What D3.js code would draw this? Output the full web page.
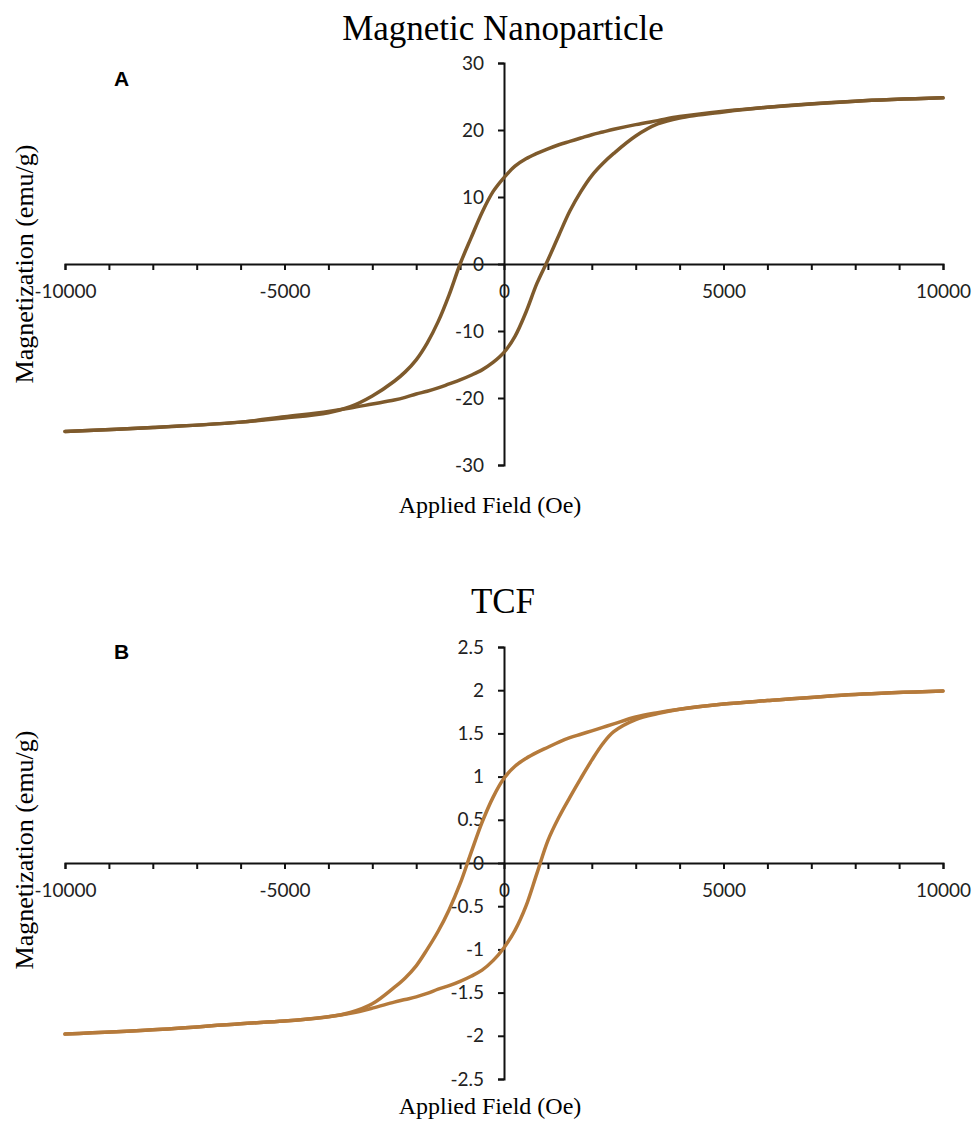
<!DOCTYPE html>
<html>
<head>
<meta charset="utf-8">
<script src="https://cdn.jsdelivr.net/npm/d3@7"></script>
<style>
  body { margin: 0; background: #fff; }
  .tick text { font-family: Lato, "Open Sans", sans-serif; font-size: 19px; fill: #222; }
  .domain, .tick line { stroke: #111; stroke-width: 2px; }
</style>
</head>
<body>
<div id="chart"></div>
<script>

// field values (Oe) shared by every branch
var field = [-10000, -8000, -6000, -5000, -4000, -3500, -3000, -2500, -2250, -2000, -1750, -1500, -1250, -1000,
  -750, -500, -250, 0, 250, 500, 750, 1000, 1250, 1500, 1750, 2000, 2250, 2500, 3000, 3500, 4000, 5000, 6000, 8000, 10000]

// Panel A - magnetic nanoparticle (emu/g)
var nanoDown = [-25.0, -24.4, -23.6, -23.0, -22.2, -21.3, -19.7, -17.5, -16.1, -14.3, -11.8, -8.6, -4.6, 0.0,
  3.9, 7.7, 10.8, 12.9, 14.6, 15.7, 16.5, 17.2, 17.8, 18.3, 18.8, 19.3, 19.7, 20.1, 20.8, 21.4, 22.0, 22.8, 23.4, 24.3, 24.8]
var nanoUp = [-25.0, -24.4, -23.6, -22.8, -22.0, -21.5, -20.9, -20.3, -19.9, -19.4, -19.0, -18.5, -17.9, -17.3,
  -16.6, -15.8, -14.7, -13.2, -10.8, -7.2, -2.9, 0.6, 4.3, 7.9, 10.8, 13.2, 15.0, 16.5, 19.1, 20.9, 21.8, 22.7, 23.4, 24.3, 24.8]

// Panel B - TCF (emu/g)
var tcfDown = [-1.98, -1.93, -1.86, -1.83, -1.78, -1.73, -1.63, -1.44, -1.33, -1.19, -1.00, -0.79, -0.54, -0.24,
  0.12, 0.47, 0.76, 0.98, 1.12, 1.21, 1.28, 1.34, 1.40, 1.45, 1.49, 1.53, 1.57, 1.61, 1.69, 1.74, 1.78, 1.84, 1.88, 1.95, 1.99]
var tcfUp = [-1.98, -1.93, -1.86, -1.83, -1.78, -1.74, -1.68, -1.61, -1.58, -1.55, -1.51, -1.46, -1.42, -1.37,
  -1.31, -1.24, -1.13, -0.98, -0.78, -0.50, -0.12, 0.26, 0.53, 0.76, 0.98, 1.19, 1.38, 1.52, 1.66, 1.73, 1.78, 1.84, 1.88, 1.95, 1.99]

var xTicks = d3.range(-10000, 10001, 1000)
var nanoTicks = [-30, -20, -10, 0, 10, 20, 30]
var tcfTicks = [-2.5, -2, -1.5, -1, -0.5, 0, 0.5, 1, 1.5, 2, 2.5]

var width = 974
var height = 1121

var svg = d3.select("#chart")
  .append("svg")
    .attr("width", width)
    .attr("height", height)
    .style("background", "#fff")

function drawPanel(p) {
  var x = d3.scaleLinear().domain([-10000, 10000]).range([65, 943])
  var y = d3.scaleLinear().domain(p.domain).range(p.range)

  var g = svg.append("g")

  // title
  g.append("text")
    .attr("x", 503)
    .attr("y", p.titleY)
    .attr("text-anchor", "middle")
    .style("font-family", "'Liberation Serif', 'Times New Roman', serif")
    .style("font-size", "35px")
    .text(p.title)

  // panel letter
  g.append("text")
    .attr("x", 114)
    .attr("y", p.letterY)
    .style("font-family", "'Liberation Sans', Arial, sans-serif")
    .style("font-weight", "bold")
    .style("font-size", "21px")
    .text(p.letter)

  // x axis sits on y = 0
  g.append("g")
    .attr("transform", "translate(0," + y(0) + ")")
    .call(d3.axisBottom(x)
      .tickValues(xTicks)
      .tickSize(6)
      .tickSizeOuter(6)
      .tickPadding(15)
      .tickFormat(d => d % 5000 === 0 ? String(d) : ""))

  // y axis sits on x = 0
  g.append("g")
    .attr("transform", "translate(" + x(0) + ",0)")
    .call(d3.axisLeft(y)
      .tickValues(p.ticks)
      .tickSize(6)
      .tickSizeOuter(6)
      .tickPadding(14)
      .tickFormat(d => String(d)))

  // axis titles
  g.append("text")
    .attr("x", 490)
    .attr("y", p.xTitleY)
    .attr("text-anchor", "middle")
    .style("font-family", "'Liberation Serif', 'Times New Roman', serif")
    .style("font-size", "24px")
    .text("Applied Field (Oe)")

  g.append("text")
    .attr("transform", "translate(33," + p.yTitleY + ") rotate(-90)")
    .attr("text-anchor", "middle")
    .style("font-family", "'Liberation Serif', 'Times New Roman', serif")
    .style("font-size", "26px")
    .text("Magnetization (emu/g)")

  var line = d3.line()
    .x((d, i) => x(field[i]))
    .y(d => y(d))
    .curve(d3.curveCatmullRom.alpha(0.5))

  // the two branches of the hysteresis loop
  g.selectAll(".branch")
    .data([p.down, p.up])
    .enter()
    .append("path")
      .attr("class", "branch")
      .attr("d", line)
      .attr("fill", "none")
      .attr("stroke", p.color)
      .attr("stroke-width", 3.5)
      .attr("stroke-linecap", "round")
}

drawPanel({
  title: "Magnetic Nanoparticle", titleY: 40, letter: "A", letterY: 86,
  domain: [-30, 30], range: [465, 63], ticks: nanoTicks,
  down: nanoDown, up: nanoUp, color: "#7e5a2c",
  xTitleY: 513, yTitleY: 264
})

drawPanel({
  title: "TCF", titleY: 613, letter: "B", letterY: 659,
  domain: [-2.5, 2.5], range: [1079, 647], ticks: tcfTicks,
  down: tcfDown, up: tcfUp, color: "#b57a3b",
  xTitleY: 1114, yTitleY: 850
})

</script>
</body>
</html>
